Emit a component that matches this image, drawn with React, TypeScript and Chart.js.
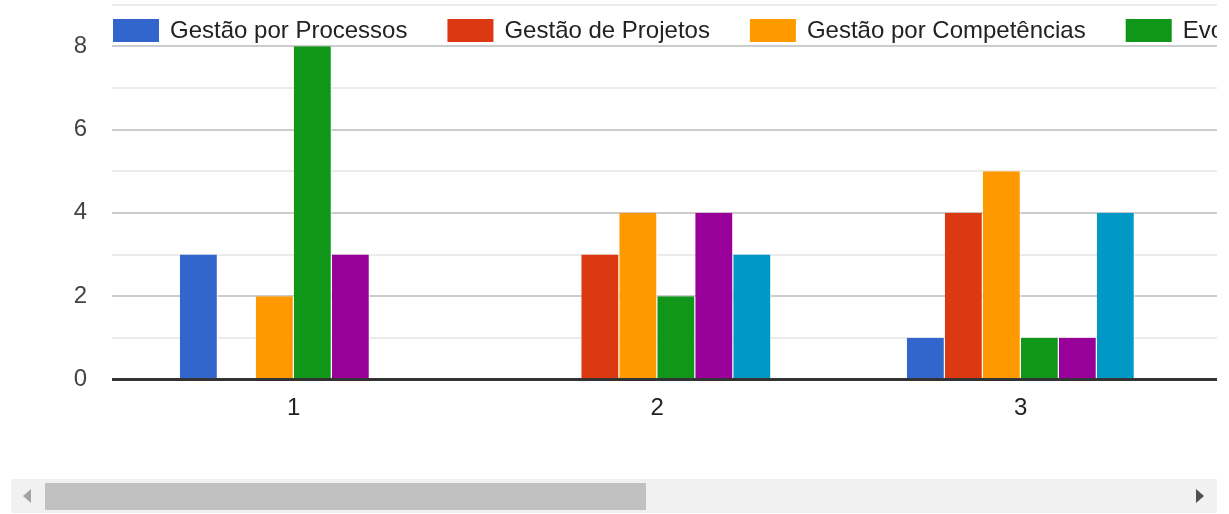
import React, { useEffect, useRef } from 'react';
import { Chart, registerables } from 'chart.js';

Chart.register(...registerables);

// ---- data ----
const categories = ['1', '2', '3', '4', '5'];
const seriesNames = [
  'Gestão por Processos',
  'Gestão de Projetos',
  'Gestão por Competências',
  'Evolução Funcional',
  'Gestão do Conhecimento',
  'Gestão da Qualidade',
];
const seriesColors = ['#3366cc', '#dc3912', '#ff9900', '#109618', '#990099', '#0099c6'];
// categories 4 and 5 lie outside the visible (scrolled) area
const processos = [3, 0, 1, 4, 3];
const projetos = [0, 3, 4, 2, 2];
const competencias = [2, 4, 5, 1, 1];
const evolucao = [8, 2, 1, 0, 0];
const conhecimento = [3, 4, 1, 2, 1];
const qualidade = [0, 3, 4, 2, 2];
const seriesValues = [processos, projetos, competencias, evolucao, conhecimento, qualidade];
const yMax = 9;

const FONT = "'Liberation Sans', Arial, sans-serif";

const legendPlugin = {
  id: 'gLegend',
  afterDraw(chart: any) {
    const ctx = chart.ctx;
    const area = chart.chartArea;
    ctx.save();
    ctx.font = `24px ${FONT}`;
    ctx.textBaseline = 'middle';
    ctx.textAlign = 'left';
    let x = area.left + 1;
    const boxW = 46;
    const boxH = 23;
    const boxY = 19;
    const midY = 31;
    chart.data.datasets.forEach((ds: any) => {
      ctx.fillStyle = ds.backgroundColor;
      ctx.fillRect(x, boxY, boxW, boxH);
      const tx = x + boxW + 11;
      ctx.lineWidth = 4;
      ctx.strokeStyle = '#ffffff';
      ctx.lineJoin = 'round';
      ctx.strokeText(ds.label, tx, midY);
      ctx.fillStyle = '#222222';
      ctx.fillText(ds.label, tx, midY);
      x = tx + ctx.measureText(ds.label).width + 40;
    });
    ctx.restore();
  },
};

const baselinePlugin = {
  id: 'gBaseline',
  afterDatasetsDraw(chart: any) {
    const ctx = chart.ctx;
    const area = chart.chartArea;
    const y0 = chart.scales.y.getPixelForValue(0);
    ctx.save();
    ctx.strokeStyle = '#333333';
    ctx.lineWidth = 3;
    ctx.beginPath();
    ctx.moveTo(area.left, y0);
    ctx.lineTo(area.right, y0);
    ctx.stroke();
    ctx.restore();
  },
};

export default function App() {
  const ref = useRef<HTMLCanvasElement | null>(null);

  useEffect(() => {
    if (!ref.current) return;
    const chart = new Chart(ref.current, {
      type: 'bar',
      data: {
        labels: categories,
        datasets: seriesNames.map((name, i) => ({
          label: name,
          data: seriesValues[i],
          backgroundColor: seriesColors[i],
          borderColor: '#ffffff',
          borderWidth: { top: 0, right: 1, bottom: 0, left: 0 },
          borderSkipped: 'start',
          categoryPercentage: 0.627,
          barPercentage: 1,
        })),
      },
      options: {
        responsive: false,
        animation: false,
        events: [],
        layout: { padding: { top: 4.5, left: 0, right: 421.5, bottom: 0 } },
        plugins: {
          legend: { display: false },
          tooltip: { enabled: false },
        },
        scales: {
          x: {
            grid: { display: false, drawTicks: false },
            border: { display: false },
            ticks: {
              color: '#222222',
              font: { family: FONT, size: 24 },
              padding: 14,
              maxRotation: 0,
            },
            afterFit: (s: any) => {
              s.height = 90.5;
              s.paddingLeft = 0;
              s.paddingRight = 0;
            },
          },
          y: {
            min: 0,
            max: yMax,
            grid: {
              drawTicks: false,
              lineWidth: 2,
              color: (c: any) =>
                c.tick && c.tick.value === 0
                  ? 'rgba(0,0,0,0)'
                  : c.tick && c.tick.value % 2 === 0
                  ? '#cccccc'
                  : '#ebebeb',
            },
            border: { display: false },
            ticks: {
              stepSize: 1,
              autoSkip: false,
              color: '#444444',
              font: { family: FONT, size: 24 },
              padding: 25,
              callback: (v: any) => (Number(v) % 2 === 0 ? String(v) : ''),
            },
            afterFit: (s: any) => {
              s.width = 101;
              s.paddingTop = 0;
              s.paddingBottom = 0;
            },
          },
        },
      },
      plugins: [baselinePlugin, legendPlugin],
    });
    return () => chart.destroy();
  }, []);

  return (
    <div
      style={{
        position: 'fixed',
        left: 0,
        top: 0,
        width: 1229,
        height: 514,
        background: '#ffffff',
        overflow: 'hidden',
      }}
    >
      <div
        style={{
          position: 'absolute',
          left: 11,
          top: 0,
          width: 1206,
          height: 470,
          overflow: 'hidden',
        }}
      >
        <canvas ref={ref} width={2340} height={470} style={{ display: 'block', width: 2340, height: 470 }} />
      </div>
      {/* scrollbar */}
      <div
        style={{
          position: 'absolute',
          left: 11,
          top: 479,
          width: 1206,
          height: 34,
          background: '#f1f1f1',
        }}
      >
        <div
          style={{
            position: 'absolute',
            left: 34,
            top: 4,
            width: 601,
            height: 27,
            background: '#c1c1c1',
          }}
        />
        <div
          style={{
            position: 'absolute',
            left: 12,
            top: 10,
            width: 0,
            height: 0,
            borderTop: '7px solid transparent',
            borderBottom: '7px solid transparent',
            borderRight: '8px solid #a3a3a3',
          }}
        />
        <div
          style={{
            position: 'absolute',
            left: 1185,
            top: 10,
            width: 0,
            height: 0,
            borderTop: '7px solid transparent',
            borderBottom: '7px solid transparent',
            borderLeft: '8px solid #505050',
          }}
        />
      </div>
    </div>
  );
}
